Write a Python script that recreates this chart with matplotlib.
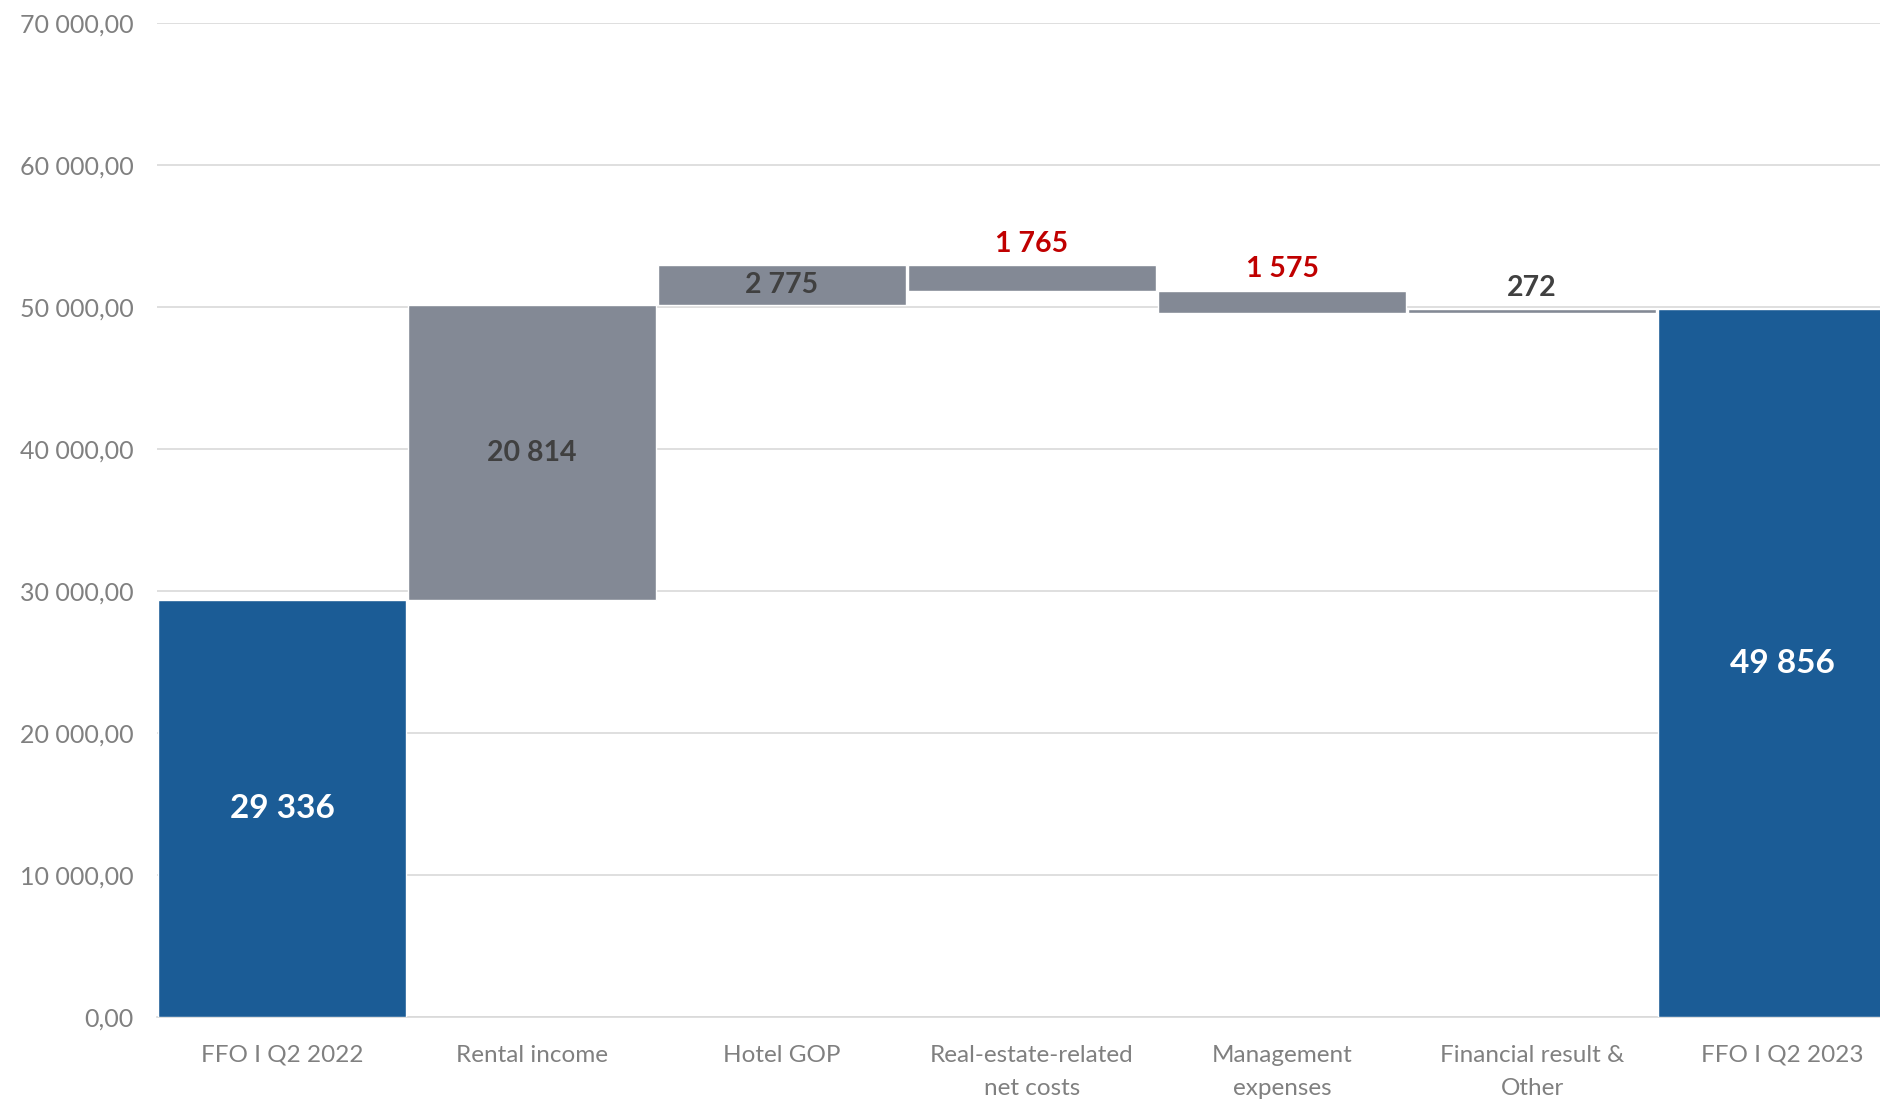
import matplotlib
matplotlib.use("Agg")
import matplotlib.pyplot as plt
from matplotlib.ticker import FuncFormatter

plt.rcParams['font.family'] = ['Lato', 'DejaVu Sans']

categories = ["FFO I Q2 2022", "Rental income", "Hotel GOP",
              "Real-estate-related\nnet costs", "Management\nexpenses",
              "Financial result &\nOther", "FFO I Q2 2023"]
start_value = 29336
deltas = [20814, 2775, -1765, -1575, 272]
end_value = 49856

blue = "#1B5C96"
grey = "#838995"
red = "#C00000"
dark = "#404040"


def fmt_space(v):
    return "{:,}".format(int(round(v))).replace(",", " ")


def fmt_axis(v, pos):
    s = "{:,.2f}".format(v)
    return s.replace(",", " ").replace(".", ",")


fig = plt.figure(figsize=(18.8, 11.01), dpi=100)
ax = fig.add_axes([157 / 1880, 1 - 1017 / 1101, 1750 / 1880, (1017 - 23) / 1101])

w = 0.99
# opening total
ax.bar(0, start_value, width=w, color=blue, edgecolor="white", linewidth=1, zorder=3)
ax.text(0, start_value / 2, fmt_space(start_value), ha="center", va="center",
        color="white", fontsize=24, fontweight="bold", zorder=4)

level = start_value
for i, d in enumerate(deltas):
    x = i + 1
    bottom = min(level, level + d)
    top = max(level, level + d)
    ax.bar(x, abs(d), bottom=bottom, width=w, color=grey, edgecolor="white",
           linewidth=1, zorder=3)
    col = dark if d > 0 else red
    if abs(d) > 2500:
        ax.text(x, (bottom + top) / 2, fmt_space(abs(d)), ha="center", va="center",
                color=col, fontsize=20.5, fontweight="bold", zorder=4)
    else:
        ax.annotate(fmt_space(abs(d)), (x, top), xytext=(0, 6), textcoords="offset points",
                    ha="center", va="bottom", color=col, fontsize=20.5,
                    fontweight="bold", zorder=4)
    level += d

# closing total
ax.bar(6, end_value, width=w, color=blue, edgecolor="white", linewidth=1, zorder=3)
ax.text(6, end_value / 2, fmt_space(end_value), ha="center", va="center",
        color="white", fontsize=24, fontweight="bold", zorder=4)

ax.set_xlim(-0.5, 6.5)
ax.set_ylim(0, 70000)
ax.set_yticks(range(0, 70001, 10000))
ax.yaxis.set_major_formatter(FuncFormatter(fmt_axis))
ax.set_xticks(range(len(categories)))
ax.set_xticklabels(categories)
ax.grid(axis="y", color="#D9D9D9", linewidth=1.2, zorder=0)
for s in ["top", "right", "left"]:
    ax.spines[s].set_visible(False)
ax.spines["bottom"].set_color("#D9D9D9")
ax.spines["bottom"].set_linewidth(1.2)
ax.tick_params(axis="y", length=0, pad=17, labelsize=18, labelcolor="#808080")
ax.tick_params(axis="x", length=0, pad=20, labelsize=17.5, labelcolor="#808080")
for lbl in ax.get_xticklabels():
    lbl.set_linespacing(1.7)

fig.savefig("out.png", dpi=100)
